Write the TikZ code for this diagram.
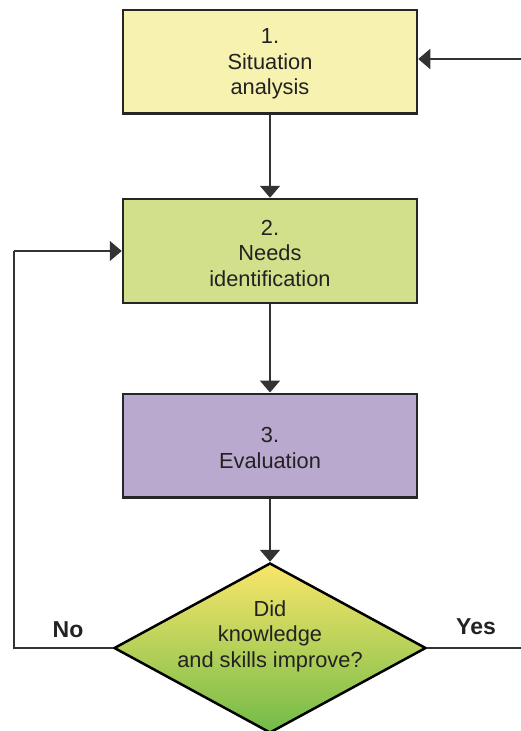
\documentclass[tikz,border=0pt]{standalone}
\usepackage{fontspec}
\setmainfont{Liberation Sans}
\usetikzlibrary{arrows.meta,shapes.geometric}
\definecolor{boxyellow}{HTML}{F7F2B0}
\definecolor{boxgreen}{HTML}{D2DF8B}
\definecolor{boxpurple}{HTML}{BAA9CE}
\definecolor{dtop}{HTML}{FAE66A}
\definecolor{dbot}{HTML}{72BB48}
\definecolor{linec}{HTML}{333333}
\definecolor{textc}{HTML}{222222}
\newcommand{\toppad}{\rule{0pt}{20pt}}
\tikzset{
  stepbox/.style={draw=black!85, line width=2.5pt, minimum width=294pt, minimum height=103.5pt,
    inner sep=0pt, align=center, text=textc, font=\fontsize{21.8}{25.5}\selectfont},
  flowarrow/.style={draw=linec, line width=2pt, -{Triangle[length=12pt,width=20pt]}},
  backline/.style={draw=linec, line width=1.6pt},
  lbl/.style={font=\fontsize{23}{25.5}\selectfont\bfseries, text=textc, inner sep=0pt},
}
\begin{document}
\begin{tikzpicture}[x=1pt,y=-1pt]
\useasboundingbox (0,0) rectangle (521,731);
\node[stepbox, fill=boxyellow] (n1) at (270,61.5) {\toppad 1.\\Situation\\analysis};
\node[stepbox, fill=boxgreen, minimum height=104pt] (n2) at (270,251) {\toppad 2.\\Needs\\identification};
\node[stepbox, fill=boxpurple] (n3) at (270,445.5) {\toppad 3.\\Evaluation};
\node[diamond, draw=black, line width=2.5pt, minimum width=312pt, minimum height=170pt,
  inner sep=0pt, top color=dtop, bottom color=dbot] (q) at (270,648) {};
\node[align=center, text=textc, font=\fontsize{21.8}{25.5}\selectfont, inner sep=0pt] (qt)
  at ([yshift=12pt]q.center) {Did\\knowledge\\and skills improve?};
\coordinate (rin) at (521,59);
\coordinate (fb) at (14,648);
\coordinate (yend) at (521,648);
\draw[flowarrow] (n1.south) -- (n2.north);
\draw[flowarrow] (n2.south) -- (n3.north);
\draw[flowarrow] (n3.south) -- (q.north);
\draw[flowarrow] (rin) -- ([yshift=2.5pt]n1.east);
\draw[backline] (q.west) -- (fb) -- (fb |- n2.west);
\draw[flowarrow, line width=1.6pt] (fb |- n2.west) -- (n2.west);
\draw[backline] (q.east) -- (yend);
\node[lbl] (no) at (68,630) {No};
\node[lbl] (yes) at (476,627) {Yes};
\end{tikzpicture}
\end{document}
